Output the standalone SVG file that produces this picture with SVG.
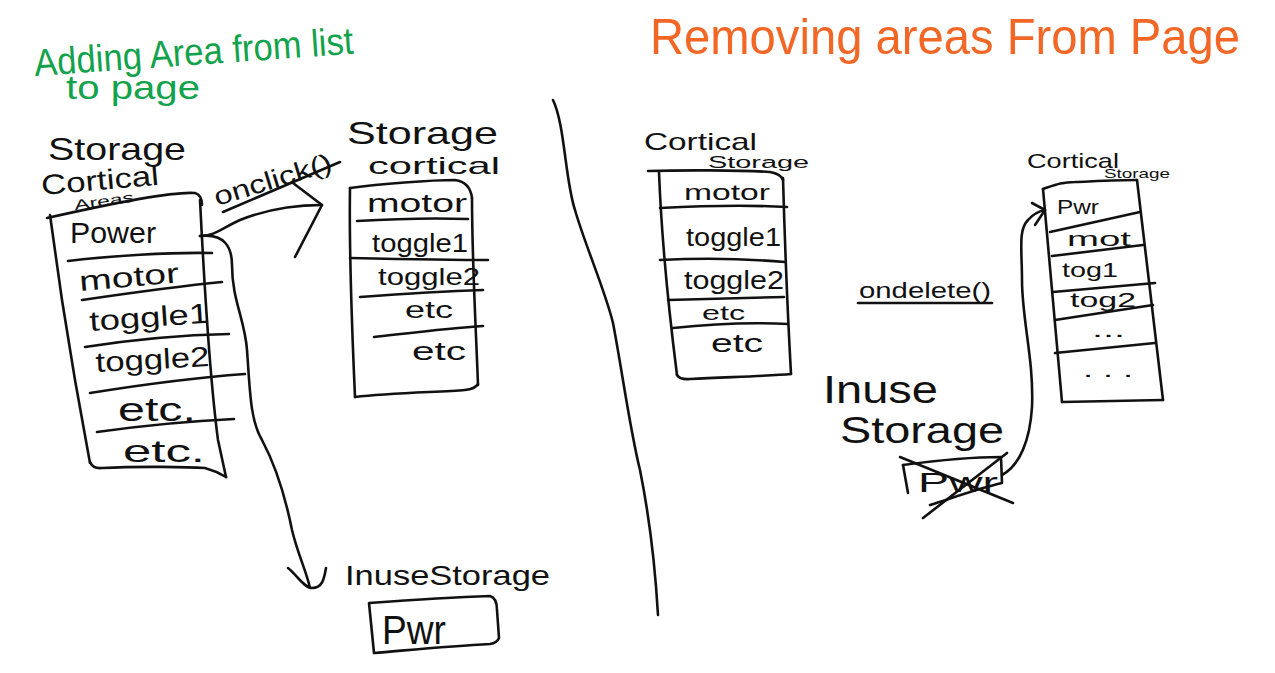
<svg xmlns="http://www.w3.org/2000/svg" width="1275" height="673" viewBox="0 0 1275 673">
<style>
  .ln{fill:none;stroke:#111;stroke-width:2.6;stroke-linecap:round;stroke-linejoin:round}
  .t{font-family:"Liberation Sans","DejaVu Sans",sans-serif;fill:#111}
  .g{font-family:"Liberation Sans","DejaVu Sans",sans-serif;fill:#13a24c}
  .o{font-family:"Liberation Sans","DejaVu Sans",sans-serif;fill:#f26726}
</style>
<rect width="1275" height="673" fill="#fff"/>

<g id="titles">
  <text class="g" x="35" y="76" font-size="38" textLength="320" lengthAdjust="spacingAndGlyphs" transform="rotate(-4 35 76)">Adding Area from list</text>
  <text class="g" x="66" y="99" font-size="34" textLength="134" lengthAdjust="spacingAndGlyphs">to page</text>
  <text class="o" x="650" y="54" font-size="50" textLength="590" lengthAdjust="spacingAndGlyphs">Removing areas From Page</text>
</g>

<g id="divider">
  <path class="ln" d="M553,100 C565,125 565,180 575,210 C585,245 605,290 613,323 C622,370 630,430 640,470 C652,530 656,580 658,615"/>
</g>

<g id="node-storage-cortical-areas">
  <text class="t" x="48" y="160" font-size="32" textLength="138" lengthAdjust="spacingAndGlyphs">Storage</text>
  <text class="t" x="42" y="195" font-size="28" textLength="118" lengthAdjust="spacingAndGlyphs" transform="rotate(-5 42 195)">Cortical</text>
  <text class="t" x="75" y="210" font-size="14" textLength="60" lengthAdjust="spacingAndGlyphs" transform="rotate(-8 75 210)">Areas</text>
  <path class="ln" d="M47,218 C100,206 170,191 195,193 Q202,195 202,205"/>
  <path class="ln" d="M50,215 L62,300 L75,380 L90,463"/>
  <path class="ln" d="M200,200 C204,280 210,380 218,440 L226,477"/>
  <path class="ln" d="M90,462 Q93,469 102,468 C140,466 190,467 205,468 Q216,471 226,477"/>
  <path class="ln" d="M68,261 C110,256 170,252 212,253"/>
  <path class="ln" d="M82,300 C130,293 180,286 222,282"/>
  <path class="ln" d="M85,347 C130,340 180,335 229,334"/>
  <path class="ln" d="M90,393 C140,385 190,378 245,374"/>
  <path class="ln" d="M97,432 C140,426 190,421 234,419"/>
  <text class="t" x="70" y="243" font-size="30" textLength="86" lengthAdjust="spacingAndGlyphs">Power</text>
  <text class="t" x="80" y="291" font-size="28" textLength="100" lengthAdjust="spacingAndGlyphs" transform="rotate(-5 80 291)">motor</text>
  <text class="t" x="90" y="331" font-size="28" textLength="120" lengthAdjust="spacingAndGlyphs" transform="rotate(-4 90 331)">toggle1</text>
  <text class="t" x="96" y="372" font-size="28" textLength="114" lengthAdjust="spacingAndGlyphs" transform="rotate(-3 96 372)">toggle2</text>
  <text class="t" x="118" y="421" font-size="34" textLength="78" lengthAdjust="spacingAndGlyphs">etc.</text>
  <text class="t" x="123" y="462" font-size="32" textLength="82" lengthAdjust="spacingAndGlyphs">etc.</text>
</g>

<g id="node-storage-cortical">
  <text class="t" x="347" y="144" font-size="32" textLength="151" lengthAdjust="spacingAndGlyphs">Storage</text>
  <text class="t" x="368" y="174" font-size="24" textLength="132" lengthAdjust="spacingAndGlyphs">cortical</text>
  <path class="ln" d="M350,188 C380,184 430,180 455,180 Q470,182 472,198"/>
  <path class="ln" d="M350,188 C349,250 352,330 355,397"/>
  <path class="ln" d="M472,198 C472,260 476,330 478,385"/>
  <path class="ln" d="M355,397 C390,393 440,392 465,390 Q475,389 478,384"/>
  <path class="ln" d="M357,221 C390,219 440,218 468,219"/>
  <path class="ln" d="M350,258 C400,259 450,260 488,260"/>
  <path class="ln" d="M360,297 C400,294 450,291 483,290"/>
  <path class="ln" d="M374,337 C410,333 450,328 483,326"/>
  <text class="t" x="367" y="212" font-size="26" textLength="100" lengthAdjust="spacingAndGlyphs">motor</text>
  <text class="t" x="372" y="252" font-size="26" textLength="96" lengthAdjust="spacingAndGlyphs">toggle1</text>
  <text class="t" x="378" y="285" font-size="24" textLength="102" lengthAdjust="spacingAndGlyphs">toggle2</text>
  <text class="t" x="405" y="318" font-size="24" textLength="48" lengthAdjust="spacingAndGlyphs">etc</text>
  <text class="t" x="412" y="360" font-size="26" textLength="54" lengthAdjust="spacingAndGlyphs">etc</text>
</g>

<g id="node-inuse-storage-left">
  <text class="t" x="345" y="585" font-size="28" textLength="205" lengthAdjust="spacingAndGlyphs">InuseStorage</text>
  <path class="ln" d="M369,603 C410,600 460,597 490,596 Q497,598 497,610 L499,638 Q497,643 490,644 C450,646 410,650 374,653 L369,603"/>
  <text class="t" x="382" y="644" font-size="40" textLength="64" lengthAdjust="spacingAndGlyphs">Pwr</text>
</g>

<g id="node-cortical-storage-mid">
  <text class="t" x="644" y="150" font-size="24" textLength="113" lengthAdjust="spacingAndGlyphs">Cortical</text>
  <text class="t" x="708" y="168" font-size="16" textLength="101" lengthAdjust="spacingAndGlyphs">Storage</text>
  <path class="ln" d="M648,171 C680,170 740,170 770,172 Q781,174 783,180"/>
  <path class="ln" d="M659,172 C662,250 670,320 677,375"/>
  <path class="ln" d="M783,178 C785,250 788,320 791,374"/>
  <path class="ln" d="M677,375 Q680,380 690,379 C730,377 770,376 791,374"/>
  <path class="ln" d="M660,208 C700,206 750,205 787,207"/>
  <path class="ln" d="M660,260 C700,258 750,259 785,262"/>
  <path class="ln" d="M668,300 C710,299 750,298 784,297"/>
  <path class="ln" d="M673,328 C710,324 750,322 788,324"/>
  <text class="t" x="684" y="200" font-size="22" textLength="86" lengthAdjust="spacingAndGlyphs">motor</text>
  <text class="t" x="686" y="246" font-size="26" textLength="95" lengthAdjust="spacingAndGlyphs">toggle1</text>
  <text class="t" x="684" y="289" font-size="26" textLength="100" lengthAdjust="spacingAndGlyphs">toggle2</text>
  <text class="t" x="702" y="320" font-size="20" textLength="43" lengthAdjust="spacingAndGlyphs">etc</text>
  <text class="t" x="711" y="352" font-size="26" textLength="52" lengthAdjust="spacingAndGlyphs">etc</text>
</g>

<g id="node-inuse-storage-right">
  <text class="t" x="823" y="403" font-size="38" textLength="115" lengthAdjust="spacingAndGlyphs">Inuse</text>
  <text class="t" x="840" y="443" font-size="36" textLength="164" lengthAdjust="spacingAndGlyphs">Storage</text>
  <path class="ln" d="M903,465 C940,460 975,457 1001,457 L1002,483 C980,488 955,497 930,505"/>
  <path class="ln" d="M903,465 L908,493"/>
  <text class="t" x="918" y="492" font-size="28" textLength="80" lengthAdjust="spacingAndGlyphs">Pwr</text>
  <path class="ln" d="M900,457 L1013,503"/>
  <path class="ln" d="M1007,453 L923,518"/>
</g>

<g id="node-cortical-storage-right">
  <text class="t" x="1027" y="168" font-size="21" textLength="92" lengthAdjust="spacingAndGlyphs">Cortical</text>
  <text class="t" x="1104" y="178" font-size="13" textLength="66" lengthAdjust="spacingAndGlyphs">Storage</text>
  <path class="ln" d="M1043,189 C1055,185 1062,182 1075,182 C1100,181 1120,180 1137,180"/>
  <path class="ln" d="M1043,189 L1062,402"/>
  <path class="ln" d="M1137,180 L1163,400"/>
  <path class="ln" d="M1062,402 L1163,400"/>
  <path class="ln" d="M1050,232 L1140,212"/>
  <path class="ln" d="M1052,256 L1143,245"/>
  <path class="ln" d="M1053,292 L1155,283"/>
  <path class="ln" d="M1055,320 L1153,305"/>
  <path class="ln" d="M1055,353 L1155,343"/>
  <text class="t" x="1057" y="214" font-size="20" textLength="42" lengthAdjust="spacingAndGlyphs">Pwr</text>
  <text class="t" x="1067" y="246" font-size="20" textLength="64" lengthAdjust="spacingAndGlyphs">mot</text>
  <text class="t" x="1062" y="277" font-size="20" textLength="56" lengthAdjust="spacingAndGlyphs">tog1</text>
  <text class="t" x="1070" y="307" font-size="20" textLength="66" lengthAdjust="spacingAndGlyphs">tog2</text>
  <text class="t" x="1092" y="337" font-size="20" textLength="33" lengthAdjust="spacingAndGlyphs">...</text>
  <text class="t" x="1083" y="377" font-size="20" textLength="50" lengthAdjust="spacingAndGlyphs">. . .</text>
</g>

<g id="connectors">
  <path class="ln" d="M200,236 C215,236 222,228 240,220 C265,210 295,205 322,205"/>
  <path class="ln" d="M293,183 L322,205 L295,257"/>
  <text class="t" x="217" y="206" font-size="26" textLength="122" lengthAdjust="spacingAndGlyphs" transform="rotate(-17 217 206)">onclick()</text>
  <path class="ln" d="M223,212 L340,162"/>
  <path class="ln" d="M200,236 C225,233 232,248 232,265 C232,300 245,320 247,350 C250,390 250,420 262,440 C278,470 286,500 292,530 C298,555 306,570 310,588"/>
  <path class="ln" d="M288,568 C296,574 304,588 312,588 C322,588 324,580 326,568"/>
  <text class="t" x="859" y="298" font-size="22" textLength="132" lengthAdjust="spacingAndGlyphs">ondelete()</text>
  <path class="ln" d="M858,303 L992,303"/>
  <path class="ln" d="M1002,475 C1020,465 1030,440 1032,407 C1034,360 1022,320 1022,280 C1022,250 1018,230 1028,220 C1034,213 1040,211 1045,210"/>
  <path class="ln" d="M1032,203 L1045,210 L1035,225"/>
</g>
</svg>
